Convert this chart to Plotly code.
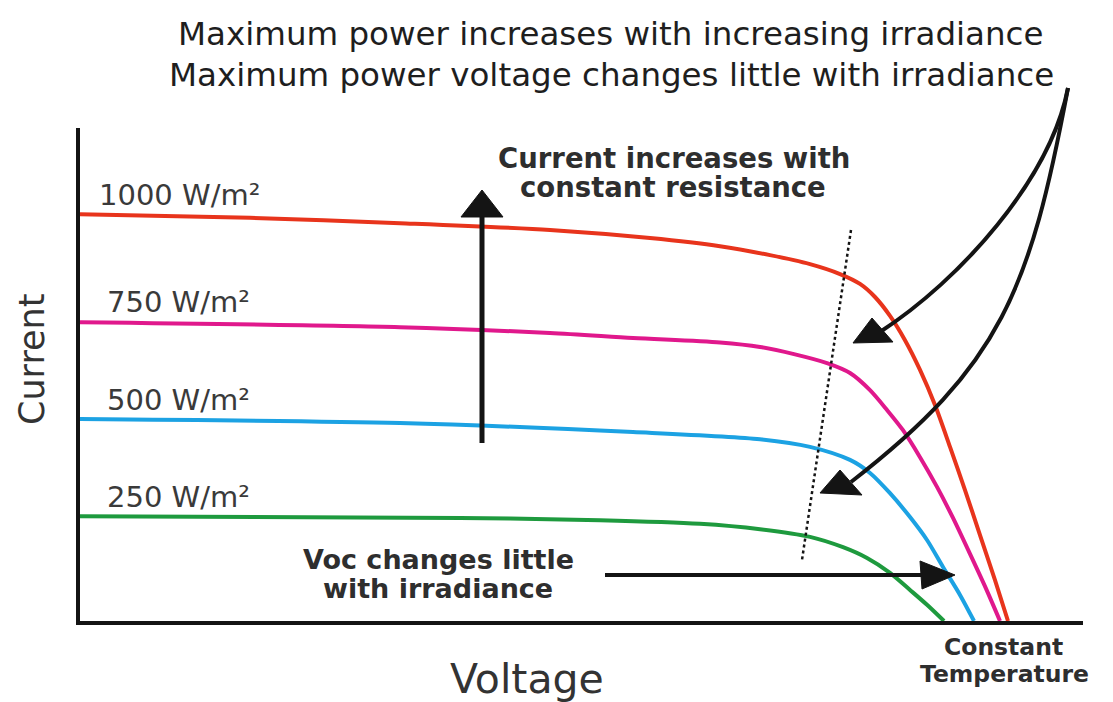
import plotly.graph_objects as go

# ---- data (Voltage in V, Current in A) ----
v_1000 = [0, 6.8, 12.8, 18.8, 22.8, 25.6, 27.6, 29.2, 30.4, 31.2, 31.8, 32.4, 33.0, 33.6, 34.2, 34.8, 35.4, 36.0, 36.6, 37.12]
i_1000 = [9.04, 8.96, 8.84, 8.69, 8.51, 8.33, 8.13, 7.93, 7.71, 7.49, 7.20, 6.78, 6.24, 5.58, 4.80, 3.87, 2.91, 1.91, 0.91, 0.0]

v_750 = [0, 12.8, 18.8, 22.12, 25.6, 27.2, 28.56, 29.88, 30.8, 31.6, 32.28, 32.92, 33.6, 34.28, 34.92, 35.6, 36.28, 36.8]
i_750 = [6.64, 6.53, 6.40, 6.29, 6.19, 6.09, 5.93, 5.73, 5.51, 5.13, 4.69, 4.24, 3.64, 2.98, 2.29, 1.49, 0.67, 0.0]

v_500 = [0, 12.8, 22.12, 27.2, 29.2, 30.8, 31.6, 32.4, 33.2, 33.88, 34.52, 35.2, 35.76]
i_500 = [4.49, 4.40, 4.20, 4.04, 3.87, 3.58, 3.29, 2.84, 2.31, 1.80, 1.20, 0.58, 0.0]

v_250 = [0, 15.2, 20.8, 24.8, 27.2, 29.2, 30.52, 31.48, 32.4, 33.2, 33.88, 34.56]
i_250 = [2.33, 2.29, 2.24, 2.16, 2.04, 1.87, 1.64, 1.40, 1.07, 0.69, 0.36, 0.0]

labels = ["1000 W/m²", "750 W/m²", "500 W/m²", "250 W/m²"]
colors = ["#E8341C", "#E0188C", "#1CA2E3", "#1E9A3E"]

W, H = 1113, 702
x_l, x_r = 80, 1083      # plot area, in window pixels
y_t, y_b = 128, 621

def P(x, y):
    # window pixel position -> paper coordinates (relative to plot area)
    return (x - x_l) / (x_r - x_l), (y_b - y) / (y_b - y_t)

FONT = "DejaVu Sans"
TXT = "#262626"

fig = go.Figure()
for v, i, c in zip([v_1000, v_750, v_500, v_250], [i_1000, i_750, i_500, i_250], colors):
    fig.add_trace(go.Scatter(x=v, y=i, mode="lines",
                             line=dict(color=c, width=4, shape="spline", smoothing=0.8),
                             hoverinfo="skip", showlegend=False))

fig.update_layout(
    width=W, height=H,
    margin=dict(l=x_l, r=W - x_r, t=y_t, b=H - y_b, pad=0),
    paper_bgcolor="white", plot_bgcolor="white",
    xaxis=dict(range=[0, (x_r - x_l) / 25], showgrid=False, zeroline=False,
               showticklabels=False, ticks="", showline=True, linewidth=4, linecolor="#141414"),
    yaxis=dict(range=[0, (y_b - y_t) / 45], showgrid=False, zeroline=False,
               showticklabels=False, ticks="", showline=True, linewidth=4, linecolor="#141414"),
    showlegend=False,
)

shapes = []
def line(p0, p1, **kw):
    a, b = P(*p0); c, d = P(*p1)
    shapes.append(dict(type="line", xref="paper", yref="paper", x0=a, y0=b, x1=c, y1=d, **kw))

def tri(pts, color="#141414"):
    s = "M " + " L ".join("%f,%f" % P(*p) for p in pts) + " Z"
    shapes.append(dict(type="path", xref="paper", yref="paper", path=s,
                       fillcolor=color, line=dict(color=color, width=1)))

def ccurve(p0, c1, c2, p1, color="#141414", width=4):
    s = "M %f,%f C %f,%f %f,%f %f,%f" % (*P(*p0), *P(*c1), *P(*c2), *P(*p1))
    shapes.append(dict(type="path", xref="paper", yref="paper", path=s,
                       line=dict(color=color, width=width)))

# dotted constant-resistance line
line((851, 230), (802, 560), line=dict(color="#141414", width=2.5, dash="dot"))
# up arrow
line((482, 443), (482, 212), line=dict(color="#141414", width=5))
tri([(461, 217), (482, 190), (503, 217)])
# horizontal arrow
line((605, 575), (925, 575), line=dict(color="#141414", width=4))
tri([(920, 561), (955, 575), (922, 589)])
# curved arrows
ccurve((1068, 88), (1050, 180), (960, 280), (880, 332))
tri([(853, 343), (872, 318), (893, 342)])
ccurve((1068, 88), (1030, 290), (1001, 366), (851, 482))
tri([(820, 493), (840, 470), (862, 495)])
fig.update_layout(shapes=shapes)

ann = []
def text(s, x, y, size, anchor="center", angle=0, color=TXT, weight="normal"):
    a, b = P(x, y)
    ann.append(dict(text=s, x=a, y=b, xref="paper", yref="paper", showarrow=False,
                    xanchor=anchor, yanchor="middle", textangle=angle,
                    font=dict(family=FONT, size=size, color=color, weight=weight)))

text("Maximum power increases with increasing irradiance", 611, 34, 32.5, color="#1e1e1e")
text("Maximum power voltage changes little with irradiance", 611, 75, 32.5, color="#1e1e1e")
text("Current increases with", 674, 158, 27.5, weight="bold", color="#2e2e2e")
text("constant resistance", 673, 187, 27.5, weight="bold", color="#2e2e2e")
text("Voc changes little", 438, 559, 27, weight="bold", color="#2e2e2e")
text("with irradiance", 438, 588, 27, weight="bold", color="#2e2e2e")
text("Constant", 1003, 647, 23.5, weight="bold", color="#2e2e2e")
text("Temperature", 1004, 674, 23.5, weight="bold", color="#2e2e2e")
for s, yy in zip(labels, [195, 302, 400, 497]):
    text(s, 97 if s.startswith("1000") else 105, yy, 29, anchor="left", color="#3a3a3a")
text("Voltage", 527, 679, 41, color="#333333")
text("Current", 32, 360, 35, angle=-90, color="#333333")
fig.update_layout(annotations=ann)

# remove the page's default 8px body margin so the figure fills the window exactly
fig.write_html("out.html", config={"displayModeBar": False},
               post_script="document.body.style.margin='0px';")
